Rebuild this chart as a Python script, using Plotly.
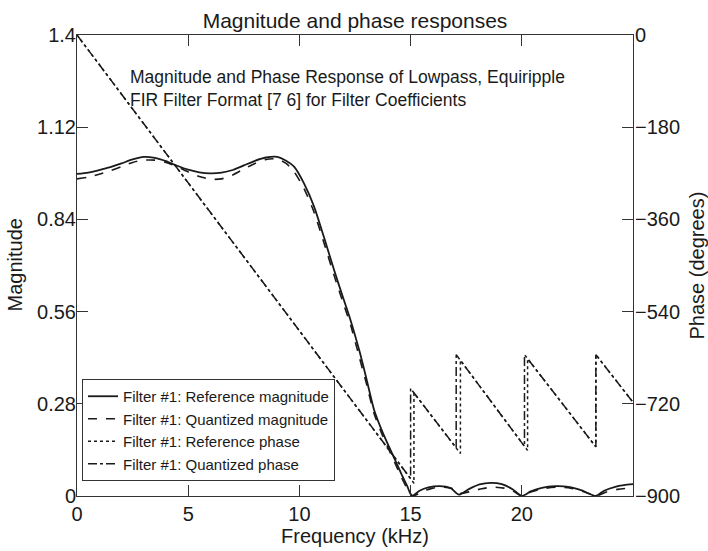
import plotly.graph_objects as go

# ---- Data ----
freq_mag_ref = [0, 0.5, 1.0, 1.5, 2.0, 2.5, 3.0, 3.5, 4.0, 4.5, 5.0, 5.5, 6.0, 6.5, 7.0, 7.5, 8.0, 8.5, 9.0,
                9.4, 9.76, 10.2, 10.66, 11.1, 11.56, 12.0, 12.3, 12.7, 13.0, 13.36, 13.7, 13.96, 14.3, 14.6, 14.85,
                15.05, 15.4, 15.8, 16.3, 16.8, 17.17, 17.6, 18.1, 18.6, 19.1, 19.6, 20.0, 20.4, 20.9, 21.5, 22.1,
                22.7, 23.33, 23.7, 24.2, 24.6, 25.0]
mag_ref = [0.978, 0.982, 0.990, 0.999, 1.010, 1.022, 1.030, 1.027, 1.017, 1.003, 0.991, 0.983, 0.980, 0.982,
           0.990, 1.004, 1.018, 1.028, 1.030, 1.018, 1.000, 0.950, 0.879, 0.787, 0.686, 0.595, 0.534, 0.440,
           0.360, 0.261, 0.200, 0.160, 0.110, 0.065, 0.030, 0.000, 0.016, 0.026, 0.030, 0.024, 0.004, 0.020,
           0.035, 0.040, 0.036, 0.020, 0.000, 0.014, 0.025, 0.030, 0.028, 0.017, 0.000, 0.016, 0.028, 0.033,
           0.036]

freq_mag_q = [0, 0.5, 1.0, 1.5, 2.0, 2.5, 3.0, 3.5, 4.0, 4.5, 5.0, 5.5, 6.0, 6.5, 7.0, 7.5, 8.0, 8.5, 9.0,
              9.4, 9.76, 10.2, 10.66, 11.1, 11.56, 12.0, 12.3, 12.7, 13.0, 13.36, 13.7, 13.96, 14.3, 14.6, 14.85,
              15.1, 15.5, 16.0, 16.4, 16.9, 17.2, 17.7, 18.2, 18.7, 19.2, 19.6, 20.0, 20.4, 21.0, 21.6, 22.2,
              22.8, 23.33, 23.8, 24.3, 24.7, 25.0]
mag_q = [0.963, 0.968, 0.977, 0.988, 1.000, 1.013, 1.020, 1.020, 1.013, 1.000, 0.984, 0.970, 0.962, 0.963,
         0.975, 0.993, 1.010, 1.022, 1.024, 1.010, 0.985, 0.935, 0.862, 0.770, 0.670, 0.580, 0.520, 0.420,
         0.345, 0.250, 0.190, 0.150, 0.100, 0.055, 0.022, 0.000, 0.013, 0.024, 0.027, 0.022, 0.008, 0.014,
         0.022, 0.027, 0.024, 0.015, 0.000, 0.012, 0.023, 0.027, 0.024, 0.013, 0.000, 0.012, 0.020, 0.023,
         0.023]

freq_ph_ref = [0, 15.15, 15.15, 17.24, 17.24, 20.26, 20.26, 23.33, 23.33, 25.0]
ph_ref = [0, -875, -699, -817, -635, -811, -632, -804, -624, -717]

freq_ph_q = [0, 15.0, 15.0, 17.05, 17.05, 20.12, 20.12, 23.33, 23.33, 25.0]
ph_q = [0, -866, -690, -806, -624, -803, -624, -804, -624, -717]

x_ticks = [0, 5, 10, 15, 20]
y_ticks = [0, 0.28, 0.56, 0.84, 1.12, 1.4]
y_tick_text = ["0", "0.28", "0.56", "0.84", "1.12", "1.4"]
y2_ticks = [0, -180, -360, -540, -720, -900]
y2_tick_text = ["0", "\u2212180", "\u2212360", "\u2212540", "\u2212720", "\u2212900"]

FONT = "Liberation Sans, Arial, sans-serif"
INK = "#1a1a1a"
AX = "#333333"

# plot area in pixels
L, R, T, B = 77, 633, 35, 496
PW, PH = R - L, B - T

fig = go.Figure()
fig.add_trace(go.Scatter(x=freq_mag_ref, y=mag_ref, mode="lines", name="Filter #1: Reference magnitude",
                         line=dict(color=INK, width=1.8, dash="solid", shape="spline", smoothing=0.6)))
fig.add_trace(go.Scatter(x=freq_mag_q, y=mag_q, mode="lines", name="Filter #1: Quantized magnitude",
                         line=dict(color=INK, width=1.6, dash="dash", shape="spline", smoothing=0.6)))
fig.add_trace(go.Scatter(x=freq_ph_ref, y=ph_ref, mode="lines", name="Filter #1: Reference phase",
                         line=dict(color=INK, width=1.5, dash="dot"), yaxis="y2"))
fig.add_trace(go.Scatter(x=freq_ph_q, y=ph_q, mode="lines", name="Filter #1: Quantized phase",
                         line=dict(color=INK, width=1.5, dash="dashdot"), yaxis="y2"))

fig.update_layout(
    width=708, height=551,
    margin=dict(l=L, r=708 - R, t=T, b=551 - B, autoexpand=False),
    paper_bgcolor="white", plot_bgcolor="white",
    font=dict(family=FONT, size=20, color=INK),
    title=dict(text="Magnitude and phase responses", x=0.5, xref="paper", xanchor="center",
               y=1 - 21 / 551, yref="container", yanchor="middle", font=dict(size=21, color=INK)),
    xaxis=dict(range=[0, 25], tickvals=x_ticks, ticks="inside", ticklen=11, tickcolor=AX,
               showline=True, linecolor=AX, linewidth=1, mirror="ticks", showgrid=False, zeroline=False,
               automargin=False, ticklabelstandoff=0,
               title=dict(text="Frequency (kHz)", standoff=0, font=dict(size=20)),
               tickfont=dict(size=20)),
    yaxis=dict(range=[0, 1.4], tickvals=y_ticks, ticktext=y_tick_text, ticks="inside", ticklen=11,
               tickcolor=AX, showline=True, linecolor=AX, linewidth=1, showgrid=False, zeroline=False,
               automargin=False, ticklabelstandoff=-4, tickfont=dict(size=20)),
    yaxis2=dict(range=[-900, 0], tickvals=y2_ticks, ticktext=y2_tick_text, overlaying="y", side="right",
                ticks="inside", ticklen=11, tickcolor=AX, showline=True, linecolor=AX, linewidth=1,
                showgrid=False, zeroline=False, automargin=False, ticklabelstandoff=-3,
                tickfont=dict(size=20)),
    legend=dict(x=(82 - L) / PW, y=(B - 481) / PH, xanchor="left", yanchor="bottom", bgcolor="white",
                bordercolor=AX, borderwidth=1, font=dict(size=15, color=INK),
                tracegroupgap=0, itemwidth=30),
    showlegend=True,
)

fig.add_annotation(text="Magnitude and Phase Response of Lowpass, Equiripple<br>FIR Filter Format [7 6] for Filter Coefficients",
                   xref="paper", yref="paper", x=(128 - L) / PW, y=(B - 88.5) / PH,
                   xanchor="left", yanchor="middle", align="left", showarrow=False,
                   font=dict(size=17.5, color=INK))
# axis titles for the two y axes
fig.add_annotation(text="Magnitude", xref="paper", yref="paper", x=(14 - L) / PW, y=0.5,
                   xanchor="center", yanchor="middle", textangle=-90, showarrow=False,
                   font=dict(size=20, color=INK))
fig.add_annotation(text="Phase (degrees)", xref="paper", yref="paper", x=(696 - L) / PW, y=0.5,
                   xanchor="center", yanchor="middle", textangle=-90, showarrow=False,
                   font=dict(size=20, color=INK))

fig.write_html("out.html", config={"displayModeBar": False},
               post_script="document.body.style.margin='0';")
